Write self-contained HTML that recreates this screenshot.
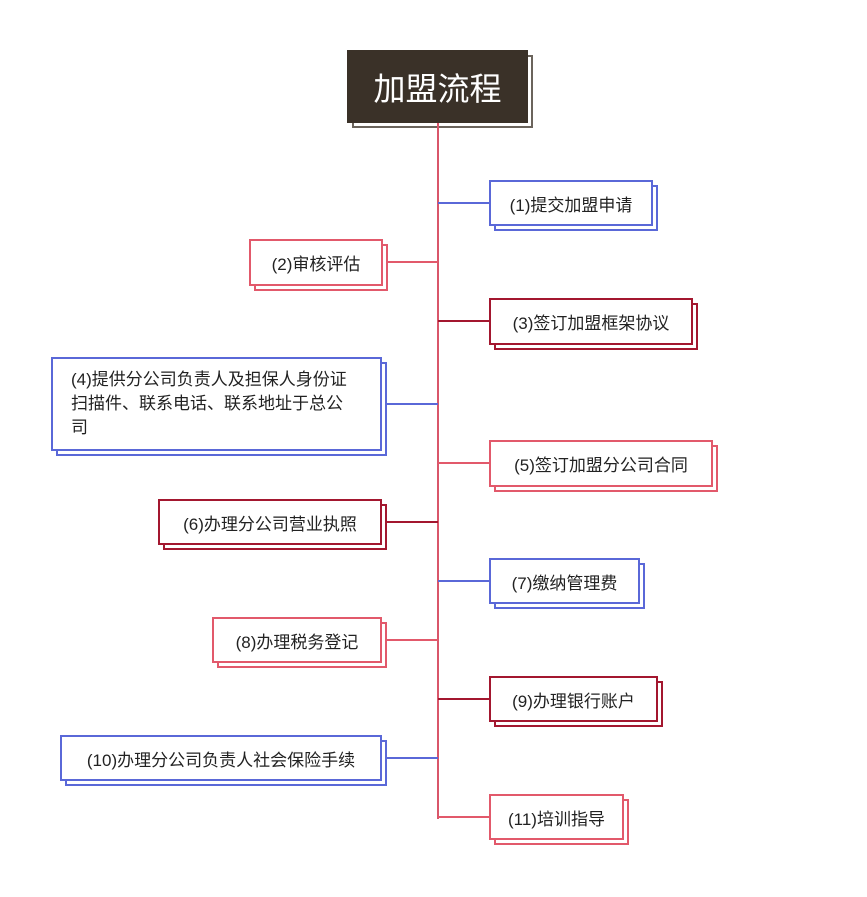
<!DOCTYPE html>
<html><head><meta charset="utf-8">
<style>
html,body{margin:0;padding:0;background:#fff;}
body{width:867px;height:897px;position:relative;overflow:hidden;font-family:"Liberation Sans","Noto Sans CJK SC",sans-serif;}
.s,.b{position:absolute;box-sizing:border-box;border:2px solid;background:#fff;}
.b{display:flex;align-items:center;justify-content:center;font-size:17px;color:#222;white-space:nowrap;}
.h,.v{position:absolute;}
.h{height:2px;}
.blue{border-color:#5a68d8;}
.pink{border-color:#e2596b;}
.red{border-color:#a3172f;}
.hb{background:#5a68d8;}.hp{background:#e2596b;}.hr{background:#a3172f;}
</style></head><body>
<div class="s" style="left:352px;top:55px;width:181px;height:73px;border-color:#6b645c;"></div>
<div style="position:absolute;left:347px;top:50px;width:181px;height:73px;background:#3a3128;color:#fff;font-size:32px;display:flex;align-items:center;justify-content:center;">加盟流程</div>
<div class="v" style="left:437px;top:123px;width:2px;height:696px;background:#d9566a;"></div>

<div class="h hb" style="left:438px;top:202px;width:51px;"></div>
<div class="h hp" style="left:387px;top:261px;width:51px;"></div>
<div class="h hr" style="left:438px;top:320px;width:51px;"></div>
<div class="h hb" style="left:387px;top:403px;width:51px;"></div>
<div class="h hp" style="left:438px;top:462px;width:51px;"></div>
<div class="h hr" style="left:387px;top:521px;width:51px;"></div>
<div class="h hb" style="left:438px;top:580px;width:51px;"></div>
<div class="h hp" style="left:387px;top:639px;width:51px;"></div>
<div class="h hr" style="left:438px;top:698px;width:51px;"></div>
<div class="h hb" style="left:387px;top:757px;width:51px;"></div>
<div class="h hp" style="left:438px;top:816px;width:51px;"></div>

<div class="s blue" style="left:494px;top:185px;width:164px;height:46px;"></div>
<div class="b blue" style="left:489px;top:180px;width:164px;height:46px;">(1)提交加盟申请</div>
<div class="s pink" style="left:254px;top:244px;width:134px;height:47px;"></div>
<div class="b pink" style="left:249px;top:239px;width:134px;height:47px;">(2)审核评估</div>
<div class="s red" style="left:494px;top:303px;width:204px;height:47px;"></div>
<div class="b red" style="left:489px;top:298px;width:204px;height:47px;">(3)签订加盟框架协议</div>
<div class="s blue" style="left:56px;top:362px;width:331px;height:94px;"></div>
<div class="b blue" style="left:51px;top:357px;width:331px;height:94px;justify-content:flex-start;padding:0 0 0 18px;line-height:24px;"><div>(4)提供分公司负责人及担保人身份证<br>扫描件、联系电话、联系地址于总公<br>司</div></div>
<div class="s pink" style="left:494px;top:445px;width:224px;height:47px;"></div>
<div class="b pink" style="left:489px;top:440px;width:224px;height:47px;">(5)签订加盟分公司合同</div>
<div class="s red" style="left:163px;top:504px;width:224px;height:46px;"></div>
<div class="b red" style="left:158px;top:499px;width:224px;height:46px;">(6)办理分公司营业执照</div>
<div class="s blue" style="left:494px;top:563px;width:151px;height:46px;"></div>
<div class="b blue" style="left:489px;top:558px;width:151px;height:46px;">(7)缴纳管理费</div>
<div class="s pink" style="left:217px;top:622px;width:170px;height:46px;"></div>
<div class="b pink" style="left:212px;top:617px;width:170px;height:46px;">(8)办理税务登记</div>
<div class="s red" style="left:494px;top:681px;width:169px;height:46px;"></div>
<div class="b red" style="left:489px;top:676px;width:169px;height:46px;">(9)办理银行账户</div>
<div class="s blue" style="left:65px;top:740px;width:322px;height:46px;"></div>
<div class="b blue" style="left:60px;top:735px;width:322px;height:46px;">(10)办理分公司负责人社会保险手续</div>
<div class="s pink" style="left:494px;top:799px;width:135px;height:46px;"></div>
<div class="b pink" style="left:489px;top:794px;width:135px;height:46px;">(11)培训指导</div>
</body></html>
